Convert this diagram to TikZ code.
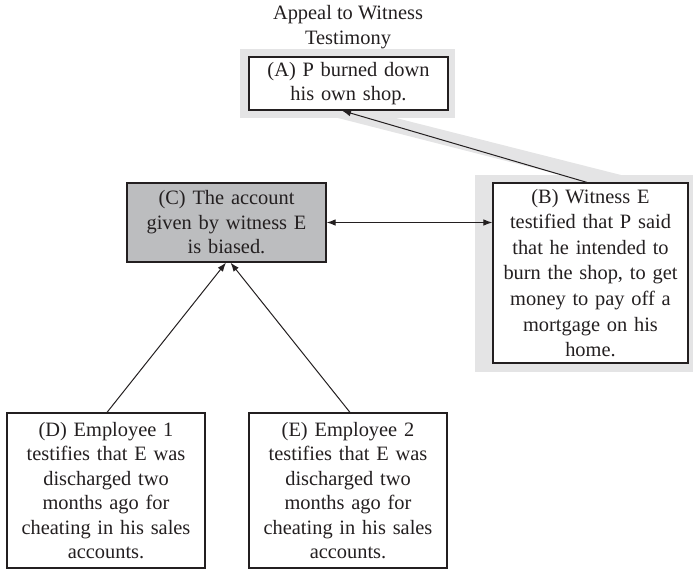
\documentclass[tikz,border=0pt]{standalone}
\usepackage{fontspec}
\setmainfont{Liberation Serif}
\usetikzlibrary{arrows.meta}
\definecolor{ink}{HTML}{231F20}
\definecolor{hlgray}{HTML}{E4E4E5}
\definecolor{boxgray}{HTML}{BCBDBF}
\begin{document}
\begin{tikzpicture}[x=1pt,y=-1pt,
  txt/.style={font=\fontsize{20.4}{24.5}\selectfont, align=center, text=ink},
  claim/.style={txt, draw=ink, fill=white, line width=1.2pt, inner xsep=3pt, inner ysep=0pt},
  hl/.style={fill=hlgray},
  link/.style={draw=ink, line width=1pt, -{Latex[length=9pt,width=6.5pt]}},
  twoway/.style={draw=ink, line width=1pt, {Latex[length=9pt,width=6.5pt]}-{Latex[length=9pt,width=6.5pt]}}]
\useasboundingbox (0,0) rectangle (693,570);

% highlighted chain A <- B
\fill[hl] (240,49) rectangle (455,118);
\fill[hl] (475,175) rectangle (693,372);
\fill[hl] (334,117) -- (392,117) -- (625,176) -- (565,176) -- cycle;

\node[txt] (title) at (348,27) {Appeal to Witness\\Testimony};

\node[claim, text width=193pt, minimum height=53pt] (A) at (348.5,83.5)
  {(A) P burned down\\his own shop.};
\node[claim, text width=189pt, minimum height=180pt,
      font=\fontsize{20.4}{25.6}\selectfont] (B) at (590.5,273)
  {(B) Witness E\\testified that P said\\that he intended to\\burn the shop, to get\\money to pay off a\\mortgage on his\\home.};
\node[claim, fill=boxgray, text width=193pt, minimum height=79pt] (C) at (226.5,222.5)
  {(C) The account\\given by witness E\\is biased.};
\node[claim, text width=192pt, minimum height=155pt] (D) at (106,490.5)
  {(D) Employee 1\\testifies that E was\\discharged two\\months ago for\\cheating in his sales\\accounts.};
\node[claim, text width=192pt, minimum height=155pt] (E) at (348,490.5)
  {(E) Employee 2\\testifies that E was\\discharged two\\months ago for\\cheating in his sales\\accounts.};

\draw[link] ([xshift=-3.5pt]B.north) -- ([xshift=-6.5pt]A.south);
\draw[twoway] (C.east) -- (C.east -| B.west);
\draw[link] ([xshift=1pt]D.north) -- ([xshift=-0.5pt]C.south);
\draw[link] ([xshift=2pt]E.north) -- ([xshift=4pt]C.south);
\end{tikzpicture}
\end{document}
